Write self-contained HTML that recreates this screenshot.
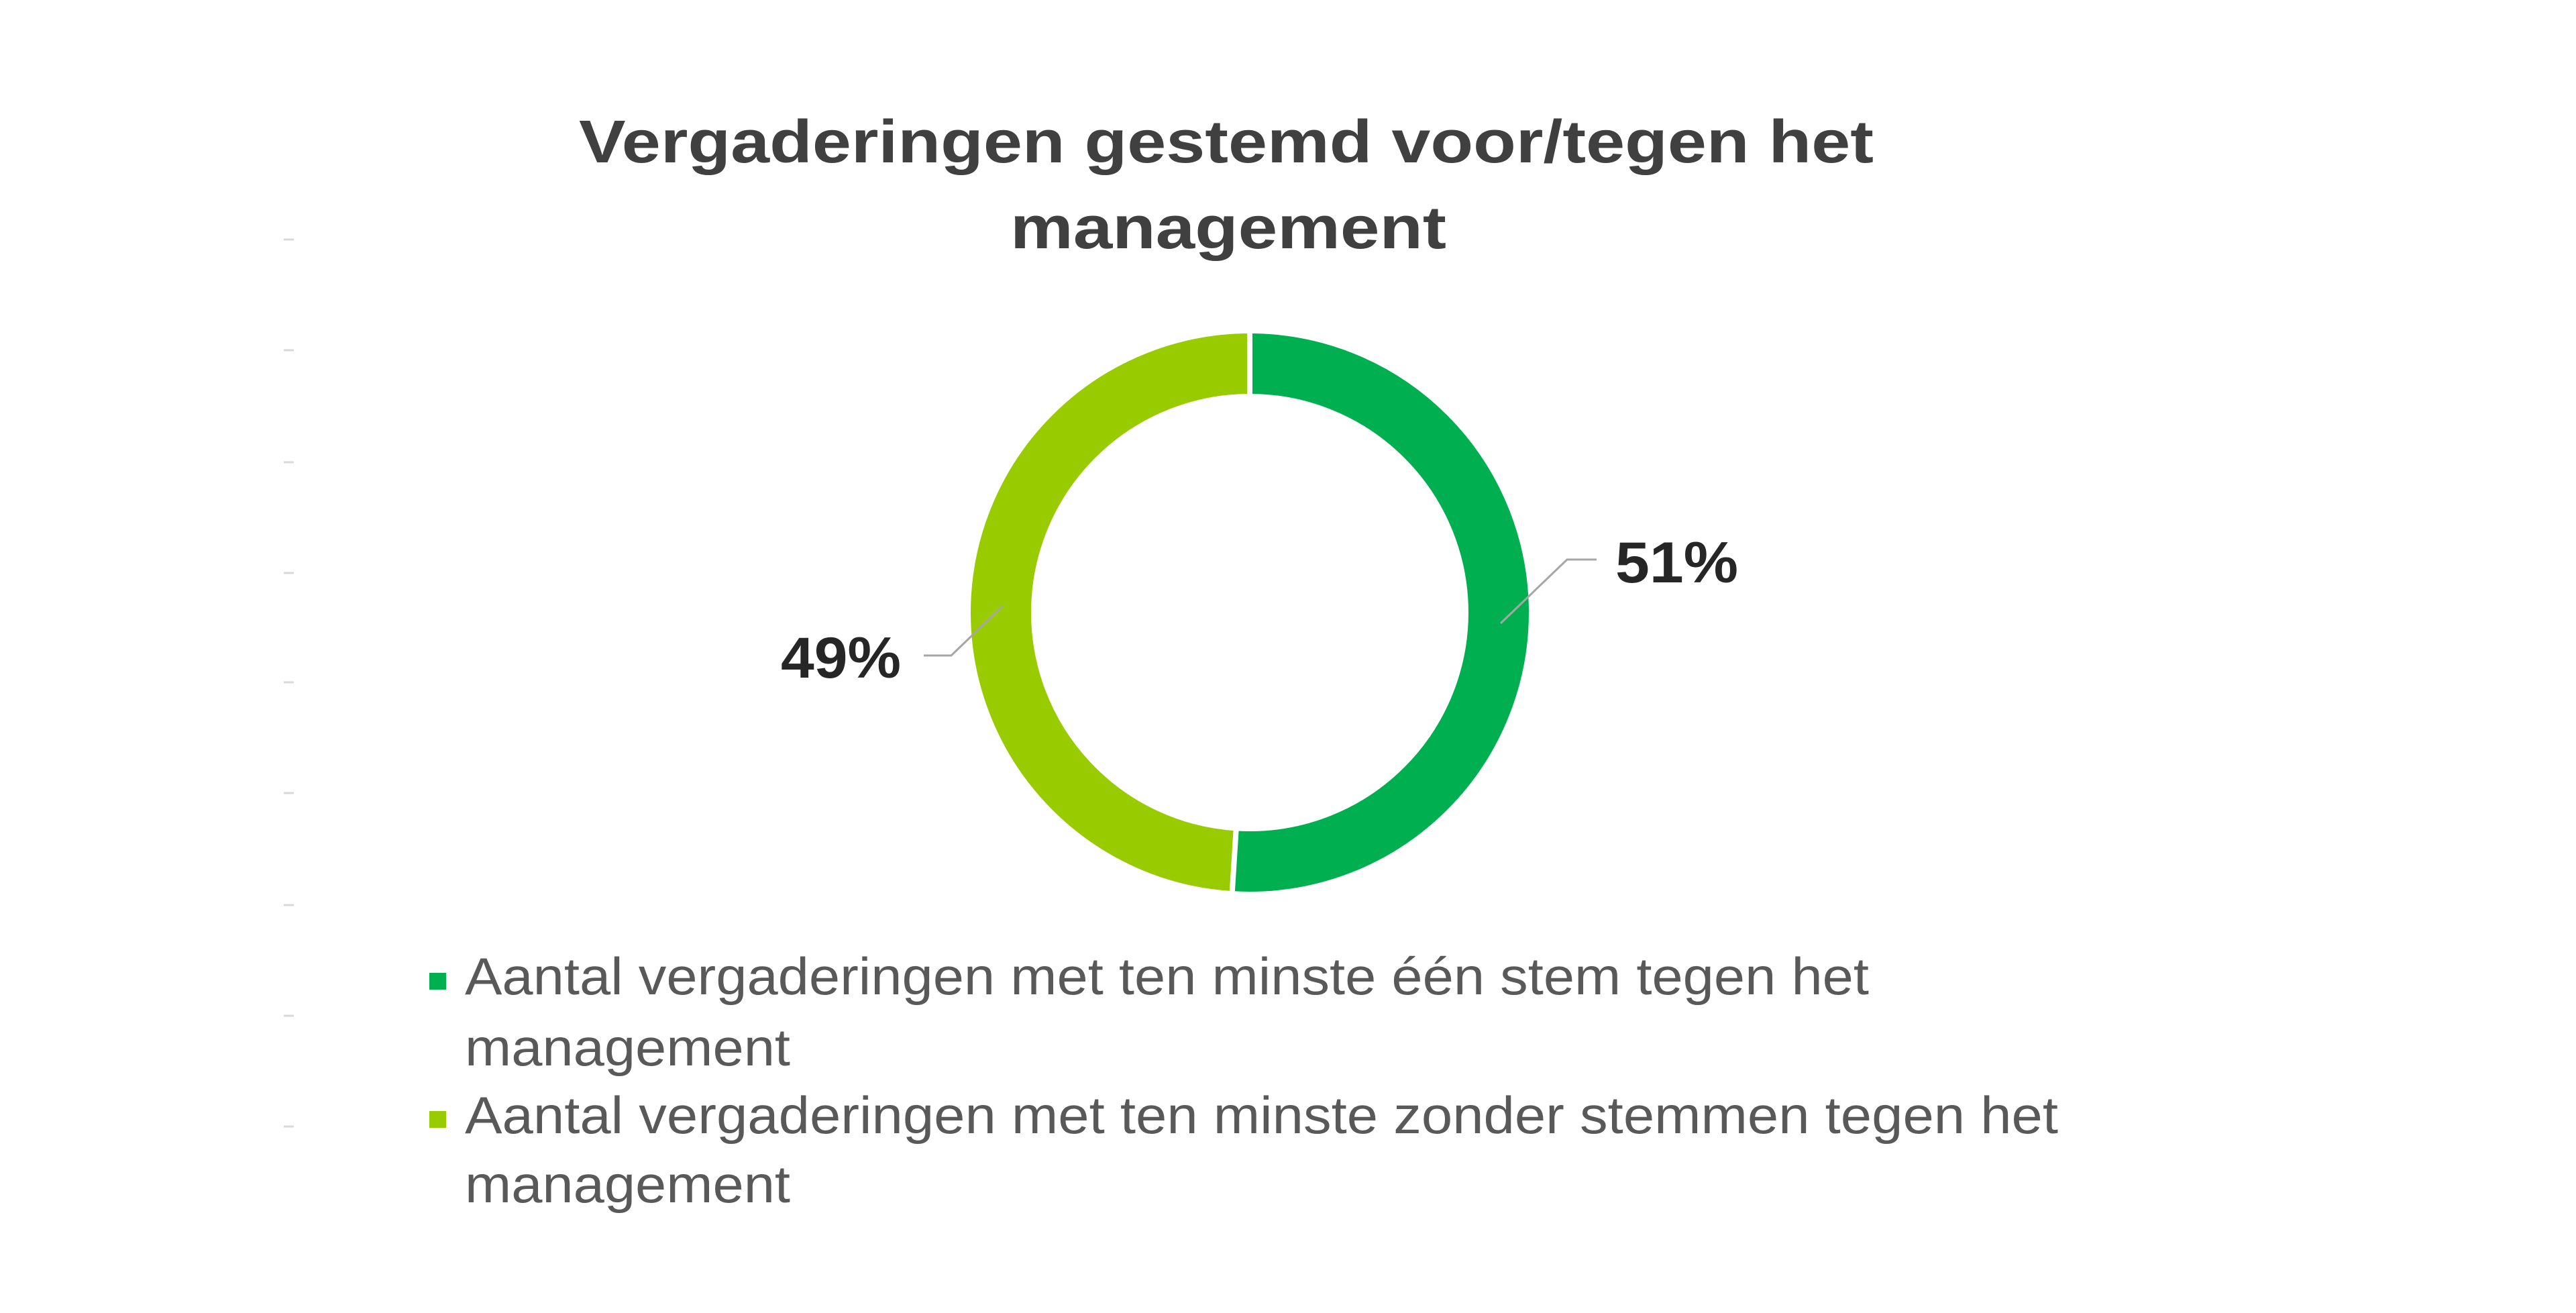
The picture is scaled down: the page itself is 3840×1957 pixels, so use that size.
<!DOCTYPE html>
<html><head><meta charset="utf-8"><style>html,body{margin:0;padding:0;background:#fff}svg{display:block}</style></head>
<body>
<svg width="3840" height="1957" viewBox="0 0 3840 1957" xmlns="http://www.w3.org/2000/svg" font-family="'Liberation Sans', sans-serif">
<rect width="3840" height="1957" fill="#fff"/>
<g stroke="#d9d9d9" stroke-width="3">
<line x1="423" y1="357" x2="438" y2="357"/><line x1="423" y1="522" x2="438" y2="522"/>
<line x1="423" y1="689" x2="438" y2="689"/><line x1="423" y1="854" x2="438" y2="854"/>
<line x1="423" y1="1017" x2="438" y2="1017"/><line x1="423" y1="1182" x2="438" y2="1182"/>
<line x1="423" y1="1349" x2="438" y2="1349"/><line x1="423" y1="1514" x2="438" y2="1514"/>
<line x1="423" y1="1679" x2="438" y2="1679"/>
</g>
<text x="1828" y="242" text-anchor="middle" font-size="90" font-weight="bold" fill="#404040" textLength="1930" lengthAdjust="spacingAndGlyphs">Vergaderingen gestemd voor/tegen het</text>
<text x="1831" y="370" text-anchor="middle" font-size="90" font-weight="bold" fill="#404040" textLength="650" lengthAdjust="spacingAndGlyphs">management</text>
<g transform="translate(1863,913)">
<circle r="371" fill="none" stroke="#00b050" stroke-width="90" stroke-dasharray="1188.8 2331" transform="rotate(-90)"/>
<circle r="371" fill="none" stroke="#99cc00" stroke-width="90" stroke-dasharray="1142.2 2331" stroke-dashoffset="-1188.8" transform="rotate(-90)"/>
<line x1="0" y1="-425" x2="0" y2="-320" stroke="#fff" stroke-width="8"/>
<g transform="rotate(3.6)"><line x1="0" y1="320" x2="0" y2="425" stroke="#fff" stroke-width="8"/></g>
</g>
<polyline points="2380,834 2336,834 2237,929" fill="none" stroke="#a6a6a6" stroke-width="3"/>
<polyline points="1377,977 1418,977 1495,903" fill="none" stroke="#a6a6a6" stroke-width="3"/>
<text x="2408" y="868" font-size="86" font-weight="bold" fill="#262626" textLength="183" lengthAdjust="spacingAndGlyphs">51%</text>
<text x="1164" y="1010" font-size="86" font-weight="bold" fill="#262626" textLength="179" lengthAdjust="spacingAndGlyphs">49%</text>
<rect x="640" y="1450" width="25" height="25" fill="#00b050"/>
<rect x="640" y="1656" width="25" height="25" fill="#99cc00"/>
<g font-size="78" fill="#595959">
<text x="693" y="1482" textLength="2093" lengthAdjust="spacingAndGlyphs">Aantal vergaderingen met ten minste één stem tegen het</text>
<text x="693" y="1588" textLength="485" lengthAdjust="spacingAndGlyphs">management</text>
<text x="693" y="1689" textLength="2375" lengthAdjust="spacingAndGlyphs">Aantal vergaderingen met ten minste zonder stemmen tegen het</text>
<text x="693" y="1792" textLength="485" lengthAdjust="spacingAndGlyphs">management</text>
</g>
</svg>
</body></html>
